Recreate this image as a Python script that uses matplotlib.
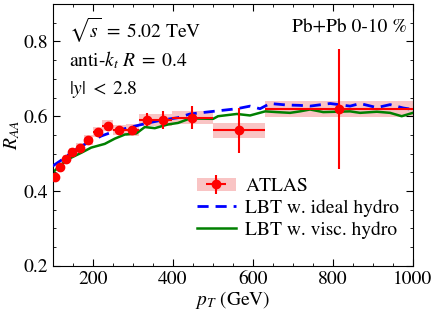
import matplotlib
matplotlib.use('Agg')
import matplotlib.pyplot as plt
from matplotlib.patches import Rectangle, Patch
import numpy as np

plt.rcParams['font.family'] = ['STIXGeneral', 'DejaVu Serif']
plt.rcParams['mathtext.fontset'] = 'stix'

# ATLAS data (bin edges, values, errors)
bin_lo = [100, 112, 126, 141, 158, 178, 200, 224, 251, 282, 316, 355, 398, 501, 631]
bin_hi = [112, 126, 141, 158, 178, 200, 224, 251, 282, 316, 355, 398, 501, 631, 1000]
atlas_x = [106, 119, 133, 149, 168, 189, 212, 237, 266, 299, 335, 376, 449, 566, 815]
atlas_y = [0.438, 0.464, 0.485, 0.504, 0.516, 0.536, 0.558, 0.575, 0.563, 0.563,
           0.591, 0.589, 0.596, 0.562, 0.620]
atlas_stat = [0.004, 0.004, 0.004, 0.004, 0.004, 0.005, 0.005, 0.005, 0.006, 0.007,
              0.018, 0.024, 0.030, 0.060, 0.160]
atlas_sys = [0.012, 0.012, 0.012, 0.012, 0.013, 0.013, 0.013, 0.014, 0.014, 0.015,
             0.016, 0.016, 0.018, 0.021, 0.021]

# LBT ideal hydro
ideal_x = [100, 121, 146, 171, 196, 221, 255, 296, 338, 380, 413, 443, 501, 560, 593,
           618, 643, 685, 718, 743, 793, 843, 868, 910, 943, 976, 1000]
ideal_y = [0.467, 0.482, 0.502, 0.520, 0.533, 0.547, 0.560, 0.571, 0.582, 0.591, 0.596,
           0.606, 0.613, 0.620, 0.627, 0.620, 0.634, 0.630, 0.629, 0.627, 0.634, 0.627,
           0.634, 0.623, 0.631, 0.622, 0.618]

# LBT viscous hydro
visc_x = [100, 121, 146, 171, 196, 230, 255, 280, 309, 330, 355, 388, 413, 443, 501,
          513, 560, 593, 631, 660, 693, 718, 743, 776, 843, 868, 910, 943, 972, 1000]
visc_y = [0.449, 0.471, 0.489, 0.502, 0.516, 0.526, 0.540, 0.551, 0.554, 0.571, 0.568,
          0.578, 0.582, 0.594, 0.593, 0.600, 0.606, 0.602, 0.613, 0.611, 0.609, 0.613,
          0.618, 0.611, 0.613, 0.609, 0.612, 0.609, 0.600, 0.609]

fig = plt.figure(figsize=(4.36, 3.13), dpi=100)
ax = fig.add_axes([0.121, 0.151, 0.826, 0.836])

for lo, hi, y, s in zip(bin_lo, bin_hi, atlas_y, atlas_sys):
    ax.add_patch(Rectangle((lo, y - s), hi - lo, 2 * s, facecolor='#f9c4c4',
                           edgecolor='none', zorder=1))

xerr = [np.array(atlas_x) - np.array(bin_lo), np.array(bin_hi) - np.array(atlas_x)]
eb = ax.errorbar(atlas_x, atlas_y, xerr=xerr, yerr=atlas_stat, fmt='o', color='red',
                 ms=6, lw=1.5, capsize=0, zorder=4)
l1, = ax.plot(ideal_x, ideal_y, color='blue', ls=(0, (4, 2.5)), lw=2, zorder=3)
l2, = ax.plot(visc_x, visc_y, color='green', lw=1.8, zorder=2)

ax.set_xlim(100, 1000)
ax.set_ylim(0.2, 0.9)
ax.set_xticks([200, 400, 600, 800, 1000])
ax.set_yticks([0.2, 0.4, 0.6, 0.8])
ax.set_xticks(np.arange(100, 1001, 50), minor=True)
ax.set_yticks(np.arange(0.2, 0.9, 0.05), minor=True)
ax.tick_params(which='both', direction='in', top=True, right=True, labelsize=14)
ax.tick_params(which='major', length=5)
ax.tick_params(which='minor', length=2.5)
ax.set_xlabel(r'$p_T$ (GeV)', fontsize=14, labelpad=1)
ax.set_ylabel(r'$R_{AA}$', fontsize=14, labelpad=1)

ax.text(0.045, 0.90, r'$\sqrt{s}\;=\;5.02$ TeV', transform=ax.transAxes, fontsize=14, va='center')
ax.text(0.045, 0.785, r'anti-$k_t$ $R\;=\;0.4$', transform=ax.transAxes, fontsize=14, va='center')
ax.text(0.045, 0.675, r'$|y|\;<\;2.8$', transform=ax.transAxes, fontsize=14, va='center')
ax.text(0.985, 0.91, 'Pb+Pb 0-10 %', transform=ax.transAxes, fontsize=14, va='center', ha='right')

box = Patch(facecolor='#f9c4c4', edgecolor='none')
ax.legend([(box, eb), l1, l2], ['ATLAS', 'LBT w. ideal hydro', 'LBT w. visc. hydro'],
          loc='lower right', frameon=False, fontsize=14, handlelength=2.0,
          handletextpad=0.5, labelspacing=0.22, borderaxespad=0.3,
          bbox_to_anchor=(1.0, 0.05))

fig.savefig('out.png', dpi=100)
